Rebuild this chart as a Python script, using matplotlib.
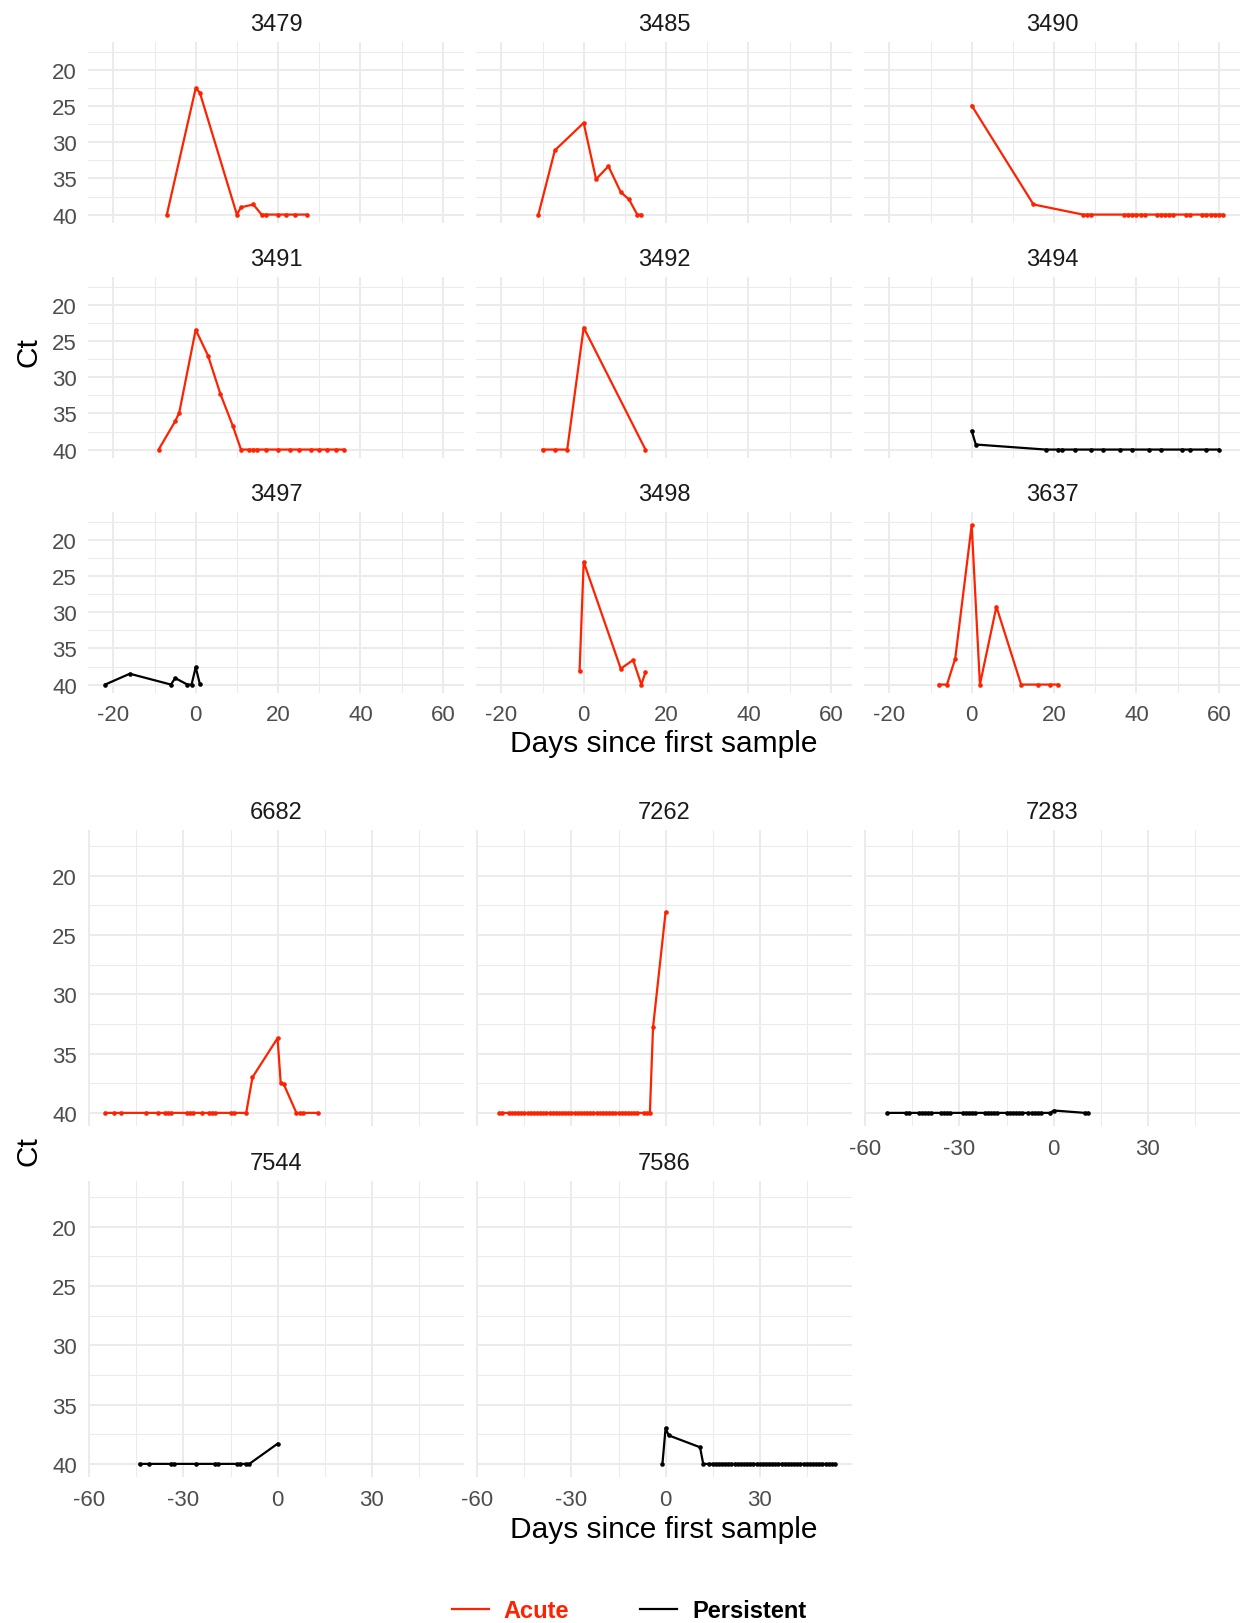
import matplotlib
matplotlib.use("Agg")
import matplotlib.pyplot as plt
from matplotlib.lines import Line2D

plt.rcParams["font.family"] = ["Liberation Sans", "DejaVu Sans"]

ACUTE_COLOR = "#FF2200"
PERSISTENT_COLOR = "#000000"

# ---- Ct trajectories per case (days relative to first positive sample) ----
days_3479 = [-7, 0, 1, 10, 11, 14, 16, 17, 20, 22, 24, 27]
ct_3479 = [40, 22.5, 23.1, 40, 39.0, 38.6, 40, 40, 40, 40, 40, 40]

days_3485 = [-11, -7, 0, 3, 6, 9, 11, 13, 14]
ct_3485 = [40, 31.1, 27.3, 35.1, 33.3, 36.9, 37.9, 40, 40]

days_3490 = [0, 15, 27, 28, 29, 37, 38, 39, 40, 41, 42, 45, 46, 47, 48, 49,
             52, 53, 56, 57, 58, 59, 60, 61]
ct_3490 = [24.9, 38.6, 40, 40, 40, 40, 40, 40, 40, 40, 40, 40, 40, 40, 40, 40,
           40, 40, 40, 40, 40, 40, 40, 40]

days_3491 = [-9, -5, -4, 0, 3, 6, 9, 11, 13, 14, 15, 17, 20, 23, 25, 28, 30,
             32, 34, 36]
ct_3491 = [40, 36.1, 34.9, 23.4, 27.0, 32.3, 36.7, 40, 40, 40, 40, 40, 40, 40,
           40, 40, 40, 40, 40, 40]

days_3492 = [-10, -7, -4, 0, 15]
ct_3492 = [40, 40, 40, 23.1, 40]

days_3494 = [0, 1, 18, 21, 22, 25, 29, 32, 36, 39, 43, 46, 51, 53, 57, 60]
ct_3494 = [37.4, 39.3, 40, 40, 40, 40, 40, 40, 40, 40, 40, 40, 40, 40, 40, 40]

days_3497 = [-22, -16, -6, -5, -2, -1, 0, 1]
ct_3497 = [40, 38.5, 40, 39.1, 40, 40, 37.6, 39.9]

days_3498 = [-1, 0, 9, 12, 14, 15]
ct_3498 = [38.1, 23.0, 37.8, 36.6, 40, 38.3]

days_3637 = [-8, -6, -4, 0, 2, 6, 12, 16, 19, 21]
ct_3637 = [40, 40, 36.4, 17.9, 40, 29.2, 40, 40, 40, 40]

days_6682 = [-55, -52, -50, -42, -38, -36, -35, -34, -29, -28, -27, -24, -22,
             -21, -20, -15, -14, -10, -8, 0, 1, 2, 6, 7, 8, 13]
ct_6682 = [40, 40, 40, 40, 40, 40, 40, 40, 40, 40, 40, 40, 40,
           40, 40, 40, 40, 40, 37.0, 33.7, 37.5, 37.6, 40, 40, 40, 40]

days_7262 = [-53, -52, -50, -49, -48, -47, -46, -45, -44, -43, -42, -41, -40,
             -39, -38, -37, -36, -35, -34, -33, -32, -31, -30, -29, -28, -27,
             -26, -25, -24, -23, -22, -21, -20, -19, -18, -17, -16, -15, -14,
             -13, -12, -11, -10, -9, -7, -6, -5, -4, 0]
ct_7262 = [40, 40, 40, 40, 40, 40, 40, 40, 40, 40, 40, 40, 40,
           40, 40, 40, 40, 40, 40, 40, 40, 40, 40, 40, 40, 40,
           40, 40, 40, 40, 40, 40, 40, 40, 40, 40, 40, 40, 40,
           40, 40, 40, 40, 40, 40, 40, 40, 32.8, 23.1]

days_7283 = [-53, -47, -46, -43, -42, -41, -40, -39, -36, -35, -34, -33, -29,
             -28, -27, -26, -25, -22, -21, -20, -19, -18, -15, -14, -13, -12,
             -11, -10, -8, -7, -6, -5, -4, -1, 0, 10, 11]
ct_7283 = [40, 40, 40, 40, 40, 40, 40, 40, 40, 40, 40, 40, 40,
           40, 40, 40, 40, 40, 40, 40, 40, 40, 40, 40, 40, 40,
           40, 40, 40, 40, 40, 40, 40, 40, 39.8, 40, 40]

days_7544 = [-44, -41, -34, -33, -26, -20, -19, -13, -12, -10, -9, 0]
ct_7544 = [40, 40, 40, 40, 40, 40, 40, 40, 40, 40, 40, 38.3]

days_7586 = [-1, 0, 1, 11, 12, 14, 15, 16, 17, 18, 19, 20, 21, 22, 23, 24, 25,
             26, 27, 28, 29, 30, 31, 32, 33, 34, 35, 36, 37, 38, 39, 40, 41, 42,
             43, 44, 45, 46, 47, 48, 49, 50, 51, 52, 53, 54]
ct_7586 = [40, 37.0, 37.6, 38.6, 40, 40, 40, 40, 40, 40, 40, 40, 40, 40, 40, 40,
           40, 40, 40, 40, 40, 40, 40, 40, 40, 40, 40, 40, 40, 40, 40, 40, 40,
           40, 40, 40, 40, 40, 40, 40, 40, 40, 40, 40, 40, 40]

# facet order and infection class for each group of panels
group_a = [
    ("3479", days_3479, ct_3479, "Acute"),
    ("3485", days_3485, ct_3485, "Acute"),
    ("3490", days_3490, ct_3490, "Acute"),
    ("3491", days_3491, ct_3491, "Acute"),
    ("3492", days_3492, ct_3492, "Acute"),
    ("3494", days_3494, ct_3494, "Persistent"),
    ("3497", days_3497, ct_3497, "Persistent"),
    ("3498", days_3498, ct_3498, "Acute"),
    ("3637", days_3637, ct_3637, "Acute"),
]
group_b = [
    ("6682", days_6682, ct_6682, "Acute"),
    ("7262", days_7262, ct_7262, "Acute"),
    ("7283", days_7283, ct_7283, "Persistent"),
    ("7544", days_7544, ct_7544, "Persistent"),
    ("7586", days_7586, ct_7586, "Persistent"),
]

class_colors = {"Acute": ACUTE_COLOR, "Persistent": PERSISTENT_COLOR}

ct_major = [20, 25, 30, 35, 40]
ct_minor = [17.5, 22.5, 27.5, 32.5, 37.5]
x_major_a = [-20, 0, 20, 40, 60]
x_minor_a = [-10, 10, 30, 50]
x_major_b = [-60, -30, 0, 30]
x_minor_b = [-45, -15, 15, 45]
CT_LIMITS = (41.14, 16.14)

W, H = 1241, 1624
fig = plt.figure(figsize=(W / 100, H / 100), dpi=100)
fig.patch.set_facecolor("white")

GRID = "#EBEBEB"
TICK_COLOR = "#4D4D4D"
TICK_SIZE = 16
STRIP_SIZE = 17
TITLE_SIZE = 21.5


def padded_range(groups):
    lo = min(min(g[1]) for g in groups)
    hi = max(max(g[1]) for g in groups)
    pad = 0.05 * (hi - lo)
    return lo - pad, hi + pad


def add_panel(left, top, width, height):
    return fig.add_axes([left / W, 1 - (top + height) / H, width / W, height / H])


def style_axis(ax, xlim, xmaj, xmin, show_x, show_y):
    ax.set_xlim(*xlim)
    ax.set_ylim(*CT_LIMITS)
    ax.set_xticks(xmaj)
    ax.set_xticks(xmin, minor=True)
    ax.set_yticks(ct_major)
    ax.set_yticks(ct_minor, minor=True)
    ax.grid(which="major", color=GRID, linewidth=1.4)
    ax.grid(which="minor", color=GRID, linewidth=0.75)
    ax.set_axisbelow(True)
    for s in ax.spines.values():
        s.set_visible(False)
    ax.tick_params(which="both", length=0, labelsize=TICK_SIZE,
                   labelcolor=TICK_COLOR, pad=8)
    ax.set_xticklabels([str(v) for v in xmaj] if show_x else [])
    ax.set_yticklabels([str(v) for v in ct_major] if show_y else [])
    ax.set_facecolor("white")


def draw_case(ax, name, days, ct, cls):
    col = class_colors[cls]
    ax.plot(days, ct, color=col, linewidth=1.6, marker="o", markersize=3.3,
            markeredgewidth=0, solid_joinstyle="round", zorder=3)
    ax.annotate(name, xy=(0.5, 1), xycoords="axes fraction",
                xytext=(0, 8.6), textcoords="offset points",
                ha="center", va="baseline", fontsize=STRIP_SIZE, color="#1A1A1A")


col_left = [88, 476, 864]
panel_w = 376

# --- first group: 3 x 3 facets ---
xlim_a = padded_range(group_a)
rows_top_a = [43.3, 278.3, 513.3]
for i, (name, d, c, cls) in enumerate(group_a):
    r, k = divmod(i, 3)
    ax = add_panel(col_left[k], rows_top_a[r], panel_w, 180.5)
    style_axis(ax, xlim_a, x_major_a, x_minor_a, show_x=(r == 2), show_y=(k == 0))
    draw_case(ax, name, d, c, cls)

fig.text(28 / W, 1 - 352 / H, "Ct", rotation=90, ha="center", va="center",
         fontsize=TITLE_SIZE, color="black")
fig.text(664 / W, 1 - 744 / H, "Days since first sample", ha="center",
         va="center", fontsize=TITLE_SIZE, color="black")

# --- second group: 2 x 3 facets (5 cases) ---
xlim_b = padded_range(group_b)
rows_top_b = [830.8, 1181.8]
for i, (name, d, c, cls) in enumerate(group_b):
    r, k = divmod(i, 3)
    ax = add_panel(col_left[k], rows_top_b[r], panel_w, 296.6)
    below_empty = (r == 0 and k == 2)
    style_axis(ax, xlim_b, x_major_b, x_minor_b,
               show_x=(r == 1 or below_empty), show_y=(k == 0))
    draw_case(ax, name, d, c, cls)

fig.text(28 / W, 1 - 1151 / H, "Ct", rotation=90, ha="center", va="center",
         fontsize=TITLE_SIZE, color="black")
fig.text(664 / W, 1 - 1530 / H, "Days since first sample", ha="center",
         va="center", fontsize=TITLE_SIZE, color="black")

# --- shared legend ---
handles = [Line2D([], [], color=class_colors[k], linewidth=1.6) for k in class_colors]
leg = fig.legend(handles, list(class_colors), loc="center",
                 bbox_to_anchor=(629 / W, 1 - 1612 / H), ncol=2, frameon=False,
                 handlelength=1.57, handletextpad=0.64, columnspacing=3.0,
                 prop={"size": 17, "weight": "bold"})
for txt, k in zip(leg.get_texts(), class_colors):
    txt.set_color(class_colors[k])

fig.savefig("out.png", dpi=100, facecolor="white")
